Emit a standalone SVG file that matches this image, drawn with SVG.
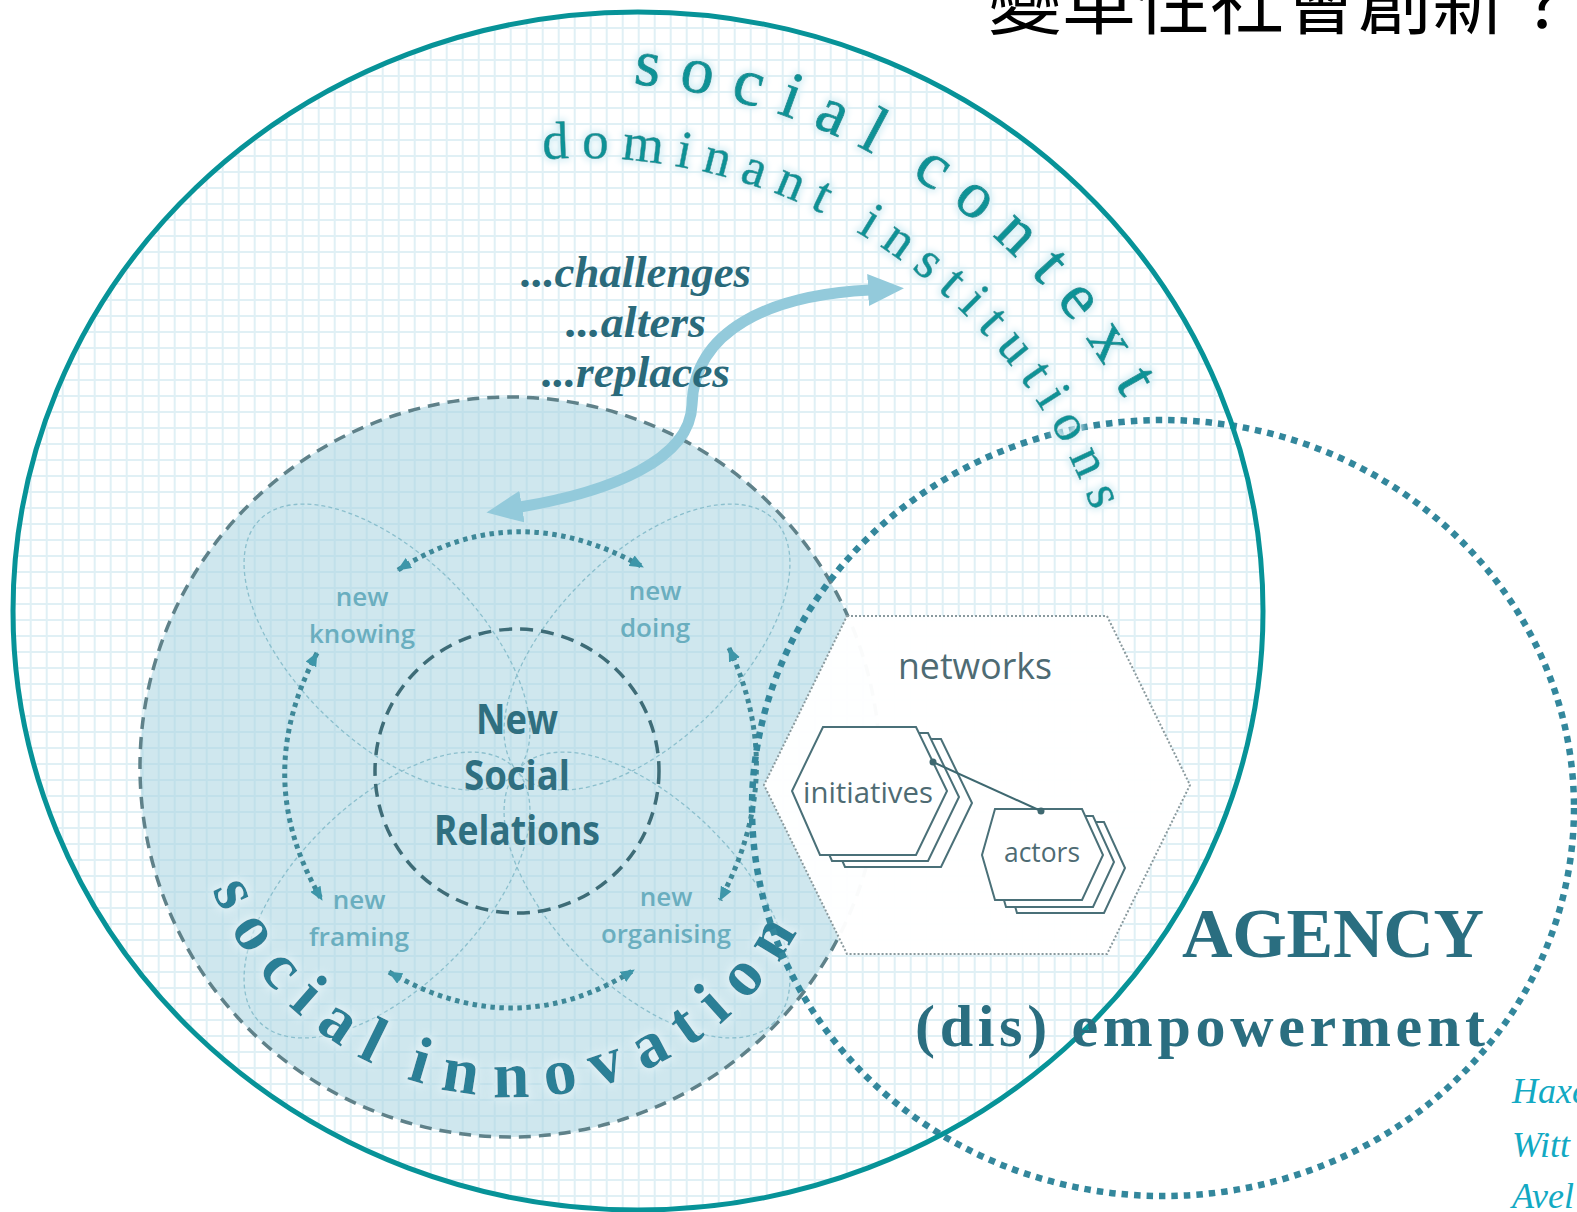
<svg xmlns="http://www.w3.org/2000/svg" width="1577" height="1212" viewBox="0 0 1577 1212">
<style>
.lbl{font-family:"Open Sans","Noto Sans",sans-serif;font-weight:600;fill:#6aaebf;font-size:26px;text-anchor:middle}
.nsr{font-family:"Open Sans","Noto Sans",sans-serif;font-weight:700;fill:#2f6f80;font-size:42px;text-anchor:middle}
.net{font-family:"Open Sans","Noto Sans",sans-serif;fill:#4e6b73;text-anchor:middle}
.cha{font-family:"Liberation Serif",serif;font-weight:bold;font-style:italic;fill:#2a6a7b;font-size:44px;text-anchor:middle}
.ctx{font-family:"Liberation Serif",serif;fill:#0a9296;stroke:#0a9296;stroke-width:0.9}
.inn{font-family:"Liberation Serif",serif;font-weight:bold;fill:#2c7f96}
.agn{font-family:"Liberation Serif",serif;font-weight:bold;fill:#2a6e80}
.ref{font-family:"Liberation Serif",serif;font-style:italic;fill:#12a9c3;font-size:36px}
.dotarr{fill:none;stroke:#3e8898;stroke-width:5;stroke-dasharray:4.5 4.5;marker-start:url(#tri);marker-end:url(#tri)}
.petal{fill:none;stroke:#8bbfcd;stroke-width:1.3;stroke-dasharray:4 3}
.hex{fill:#ffffff;stroke:#4a7078;stroke-width:2}
</style>
<defs>
<pattern id="grid" patternUnits="userSpaceOnUse" x="13.7" y="11" width="16" height="16">
<rect x="0" y="0" width="2" height="16" fill="#e0f0f5"/>
<rect x="0" y="0" width="16" height="2" fill="#e0f0f5"/>
</pattern>
<clipPath id="bigclip"><ellipse cx="638" cy="611" rx="625" ry="599"/></clipPath>
<marker id="tri" markerUnits="userSpaceOnUse" viewBox="0 0 14 12" markerWidth="14" markerHeight="12" refX="13" refY="6" orient="auto-start-reverse">
<path d="M0,0 L14,6 L0,12 z" fill="#3d96a9"/>
</marker>
<marker id="bigtri" markerUnits="userSpaceOnUse" viewBox="0 0 36 32" markerWidth="36" markerHeight="32" refX="2" refY="16" orient="auto-start-reverse">
<path d="M0,0 L36,16 L0,32 z" fill="#93cadb"/>
</marker>
<filter id="glow" x="-30%" y="-30%" width="160%" height="160%">
<feMorphology in="SourceAlpha" operator="dilate" radius="2" result="d"/>
<feGaussianBlur in="d" stdDeviation="3.5" result="b"/>
<feFlood flood-color="#d4eef5"/>
<feComposite in2="b" operator="in" result="h"/>
<feMerge><feMergeNode in="h"/><feMergeNode in="SourceGraphic"/></feMerge>
</filter>
<filter id="glowW" x="-30%" y="-30%" width="160%" height="160%">
<feMorphology in="SourceAlpha" operator="dilate" radius="2" result="d"/>
<feGaussianBlur in="d" stdDeviation="4" result="b"/>
<feFlood flood-color="#e6f4f8" flood-opacity="0.8"/>
<feComposite in2="b" operator="in" result="h"/>
<feMerge><feMergeNode in="h"/><feMergeNode in="SourceGraphic"/></feMerge>
</filter>
<path id="pCtx" d="M633,84 A622,622 0 0 1 1166.5,491.3"/>
<path id="pDom" d="M543,159.4 A546,546 0 0 1 1109.4,562.7"/>
<path id="pInn" d="M202,856.9 A324,324 0 0 0 828,856.9"/>
</defs>

<g id="social-context">
<rect x="0" y="0" width="1577" height="1212" fill="url(#grid)" clip-path="url(#bigclip)"/>
</g>

<g id="social-innovation">
<circle cx="510" cy="767" r="370" fill="#a8d3e0" fill-opacity="0.55"/>
<circle cx="510" cy="767" r="370" fill="none" stroke="#5f8189" stroke-width="3.5" stroke-dasharray="12 8"/>
</g>

<g id="petals">
<ellipse class="petal" cx="0" cy="0" rx="180" ry="92" transform="translate(387,647) rotate(45)"/>
<ellipse class="petal" cx="0" cy="0" rx="180" ry="92" transform="translate(647,647) rotate(-45)"/>
<ellipse class="petal" cx="0" cy="0" rx="180" ry="92" transform="translate(387,895) rotate(-45)"/>
<ellipse class="petal" cx="0" cy="0" rx="180" ry="92" transform="translate(647,895) rotate(45)"/>
</g>

<g id="new-social-relations">
<circle cx="517" cy="771" r="142" fill="none" stroke="#3e6c77" stroke-width="3.5" stroke-dasharray="13 8"/>
<text class="nsr" x="517" y="734" textLength="82" lengthAdjust="spacingAndGlyphs">New</text>
<text class="nsr" x="517" y="790" textLength="106" lengthAdjust="spacingAndGlyphs">Social</text>
<text class="nsr" x="517" y="845" textLength="166" lengthAdjust="spacingAndGlyphs">Relations</text>
</g>

<g id="new-knowing"><text class="lbl" x="362" y="606">new</text><text class="lbl" x="362" y="643" textLength="106" lengthAdjust="spacingAndGlyphs">knowing</text></g>
<g id="new-doing"><text class="lbl" x="655" y="600">new</text><text class="lbl" x="655" y="637">doing</text></g>
<g id="new-framing"><text class="lbl" x="359" y="909">new</text><text class="lbl" x="359" y="946" textLength="100" lengthAdjust="spacingAndGlyphs">framing</text></g>
<g id="new-organising"><text class="lbl" x="666" y="906">new</text><text class="lbl" x="666" y="943" textLength="130" lengthAdjust="spacingAndGlyphs">organising</text></g>

<g id="connectors">
<path class="dotarr" d="M398,570 Q515,495 643,567"/>
<path class="dotarr" d="M389,972 Q515,1045 634,970"/>
<path class="dotarr" d="M317,653 Q250,779 322,900"/>
<path class="dotarr" d="M729,648 Q788,774 720,900"/>
<path d="M520,507 C610,492 690,460 692,405 C694,330 770,295 870,290" fill="none" stroke="#93cadb" stroke-width="11" marker-start="url(#bigtri)" marker-end="url(#bigtri)"/>
</g>

<g id="challenges">
<text class="cha" x="636" y="287" textLength="230" lengthAdjust="spacingAndGlyphs">...challenges</text>
<text class="cha" x="636" y="337" textLength="140" lengthAdjust="spacingAndGlyphs">...alters</text>
<text class="cha" x="636" y="387" textLength="188" lengthAdjust="spacingAndGlyphs">...replaces</text>
</g>

<g id="social-innovation-label" filter="url(#glowW)">
<text class="inn" font-size="66" letter-spacing="17" word-spacing="-14"><textPath href="#pInn" startOffset="34">social innovation</textPath></text>
</g>

<g id="networks">
<polygon points="847,616 1107,616 1190,785 1107,954 847,954 764,785" fill="#ffffff" fill-opacity="0.97" stroke="#8a9a9e" stroke-width="2" stroke-dasharray="2 2"/>
<text class="net" x="975" y="679" font-size="36" textLength="154" lengthAdjust="spacingAndGlyphs">networks</text>
</g>

<g id="initiatives">
<polygon class="hex" points="848,739 941,739 972,803 941,867 845,867 817,803"/>
<polygon class="hex" points="835,733 928,733 959,797 928,861 832,861 804,797"/>
<polygon class="hex" points="823,727 916,727 947,791 916,855 820,855 792,791"/>
<text class="net" x="868" y="803" font-size="29" textLength="130" lengthAdjust="spacingAndGlyphs">initiatives</text>
</g>

<g id="actors">
<polygon class="hex" points="1017,822 1104,822 1125,868 1104,913 1017,913 1004,868"/>
<polygon class="hex" points="1006,816 1093,816 1114,862 1093,907 1006,907 993,862"/>
<polygon class="hex" points="995,809 1082,809 1103,855 1082,900 995,900 982,855"/>
<text class="net" x="1042" y="862" font-size="27" textLength="76" lengthAdjust="spacingAndGlyphs">actors</text>
</g>

<g id="link">
<line x1="933" y1="762" x2="1041" y2="811" stroke="#3e6870" stroke-width="2"/>
<circle cx="933" cy="762" r="3.5" fill="#3e6870"/>
<circle cx="1041" cy="811" r="3.5" fill="#3e6870"/>
</g>

<g id="agency">
<ellipse cx="1163" cy="808" rx="411" ry="388" fill="none" stroke="#33879c" stroke-width="6.5" stroke-dasharray="6.5 6"/>
</g>

<g id="context-border">
<ellipse cx="638" cy="611" rx="625" ry="599" fill="none" stroke="#079398" stroke-width="5"/>
</g>

<g id="context-labels" filter="url(#glow)">
<text class="ctx" font-size="66" letter-spacing="19.5" word-spacing="-12"><textPath href="#pCtx">social context</textPath></text>
<text class="ctx" font-size="53" letter-spacing="12.5" style="stroke-width:0.6"><textPath href="#pDom">dominant institutions</textPath></text>
</g>

<g id="agency-labels">
<text class="agn" x="1182" y="957" font-size="70" textLength="302" lengthAdjust="spacing">AGENCY</text>
<text class="agn" x="915" y="1046" font-size="60" textLength="570" lengthAdjust="spacing">(dis) empowerment</text>
</g>

<g id="references">
<text class="ref" x="1512" y="1103">Haxe</text>
<text class="ref" x="1512" y="1157">Witt</text>
<text class="ref" x="1512" y="1208">Avel</text>
</g>

<g id="title">
<text x="988" y="28" font-family="'Noto Sans CJK TC','Noto Sans CJK SC',sans-serif" font-size="74" fill="#000000">變革性社會創新？</text>
</g>
</svg>
